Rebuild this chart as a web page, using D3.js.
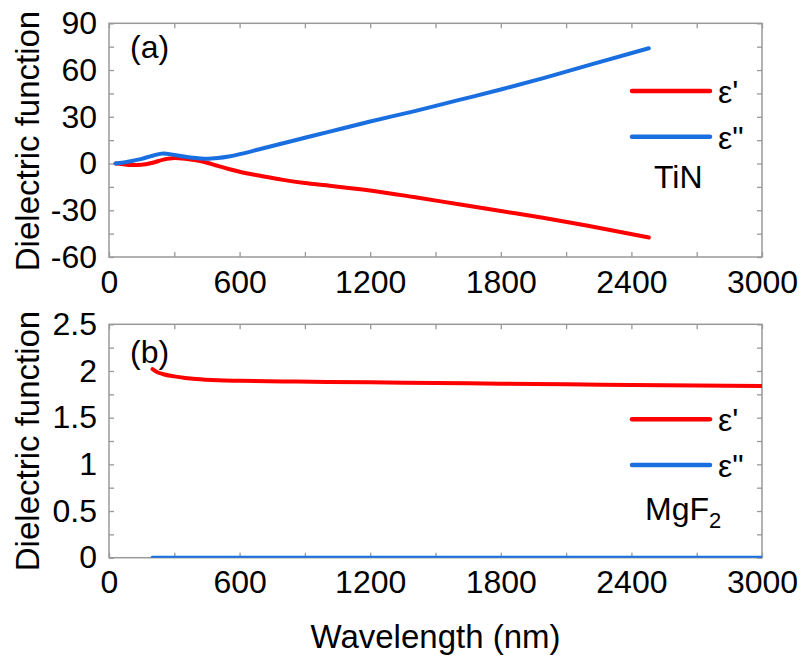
<!DOCTYPE html>
<html>
<head>
<meta charset="utf-8">
<script src="https://cdn.jsdelivr.net/npm/d3@7"></script>
<style>
  html, body { margin: 0; padding: 0; background: #fff; }
  svg text { font-family: "Liberation Sans", Arial, sans-serif; fill: #000; }
</style>
</head>
<body>
<svg id="chart" width="801" height="658"></svg>
<script>
// ---- Data ----
// Panel (a): TiN
const tinWavelength = [30, 60, 100, 150, 200, 250, 300, 350, 400, 450, 500, 550, 600, 700, 800, 900, 1000, 1200, 1400, 1600, 1800, 2000, 2200, 2480];
const tinEpsReal    = [0, -0.3, -1, -0.8, 0.5, 2.5, 3.5, 3, 2, 0.5, -1.5, -3.5, -5.3, -8, -10.5, -12.5, -14, -17.3, -21.5, -26, -30.5, -35, -40, -47.5];
const tinEpsImag    = [0, 0.5, 1.5, 3, 5, 6.5, 5.5, 4.3, 3.5, 3, 3.5, 4.5, 6, 9.5, 13, 16.5, 20, 27, 33.5, 40.5, 47.5, 55, 63, 74];

// Panel (b): MgF2
const mgWavelength = [200, 220, 250, 300, 350, 400, 500, 600, 800, 1000, 1200, 1500, 1800, 2100, 2400, 2700, 3000];
const mgEpsReal    = [2.02, 1.99, 1.965, 1.942, 1.925, 1.913, 1.90, 1.895, 1.888, 1.883, 1.878, 1.871, 1.864, 1.857, 1.85, 1.844, 1.838];
const mgEpsImag    = [0, 0, 0, 0, 0, 0, 0, 0, 0, 0, 0, 0, 0, 0, 0, 0, 0];

// Axes / ticks / labels
const xDomain = [0, 3000];
const xMajorTicks = [0, 600, 1200, 1800, 2400, 3000];
const xMinorStep = 300;
const yDomainA = [-60, 90];
const yMajorTicksA = [-60, -30, 0, 30, 60, 90];
const yMinorStepA = 15;
const yDomainB = [0, 2.5];
const yMajorTicksB = [0, 0.5, 1, 1.5, 2, 2.5];
const yMinorStepB = 0.25;
const seriesNames = ["ε'", "ε\""];
const materialA = "TiN";
const materialB = "MgF";
const yTitle = "Dielectric function";
const xTitle = "Wavelength (nm)";
const panelLabels = ["(a)", "(b)"];

// ---- Drawing ----
const RED = "#ff0000", BLUE = "#1a6fe0", FRAME = "#999999";
const svg = d3.select("#chart");
const left = 109, right = 762;
const FS = 32;

function range(a, b, step) {
  const out = [];
  for (let v = a; v <= b + step * 1e-6; v += step) out.push(+v.toFixed(6));
  return out;
}

function panel(opts) {
  const { top, bottom, yDomain, yMajor, yMinorStep, series, label, legendY, id } = opts;
  const x = d3.scaleLinear().domain(xDomain).range([left, right]);
  const y = d3.scaleLinear().domain(yDomain).range([bottom, top]);
  const g = svg.append("g");

  const xAll = range(xDomain[0], xDomain[1], xMinorStep);
  const yAll = range(yDomain[0], yDomain[1], yMinorStep);
  const fmtY = d => yMajor.some(m => Math.abs(m - d) < 1e-9) ? String(d) : "";
  const fmtX = d => xMajorTicks.includes(d) ? String(d) : "";
  const T = 5;

  const styleAxis = sel => {
    sel.select(".domain").remove();
    sel.selectAll(".tick line").attr("stroke", FRAME).attr("stroke-width", 1.3);
    sel.selectAll(".tick text").attr("font-size", FS).attr("font-family", "Liberation Sans, Arial, sans-serif");
  };

  g.append("g").attr("transform", `translate(0,${bottom})`)
    .call(d3.axisBottom(x).tickValues(xAll).tickSize(-T).tickPadding(13).tickFormat(fmtX))
    .call(styleAxis);
  g.append("g").attr("transform", `translate(0,${top})`)
    .call(d3.axisTop(x).tickValues(xAll).tickSize(-T).tickFormat(""))
    .call(styleAxis);
  g.append("g").attr("transform", `translate(${left},0)`)
    .call(d3.axisLeft(y).tickValues(yAll).tickSize(-T).tickPadding(12).tickFormat(fmtY))
    .call(styleAxis);
  g.append("g").attr("transform", `translate(${right},0)`)
    .call(d3.axisRight(y).tickValues(yAll).tickSize(-T).tickFormat(""))
    .call(styleAxis);

  g.append("rect").attr("x", left).attr("y", top)
    .attr("width", right - left).attr("height", bottom - top)
    .attr("fill", "none").attr("stroke", FRAME).attr("stroke-width", 1.5);

  svg.append("clipPath").attr("id", id)
    .append("rect").attr("x", left).attr("y", top).attr("width", right - left).attr("height", bottom - top);

  const line = d3.line().x(d => x(d[0])).y(d => y(d[1])).curve(d3.curveMonotoneX);
  const lg = g.append("g").attr("clip-path", `url(#${id})`);
  series.forEach(s => {
    lg.append("path").datum(s.xs.map((v, i) => [v, s.ys[i]]))
      .attr("d", line).attr("fill", "none").attr("stroke", s.color)
      .attr("stroke-width", 4).attr("stroke-linecap", "round").attr("stroke-linejoin", "round");
  });

  // panel label
  g.append("text").attr("x", 130).attr("y", label.y).attr("font-size", FS).text(label.text);

  // legend
  series.forEach((s, i) => {
    const ly = legendY[i];
    g.append("line").attr("x1", 632).attr("x2", 710).attr("y1", ly).attr("y2", ly)
      .attr("stroke", s.color).attr("stroke-width", 4.5).attr("stroke-linecap", "round");
    g.append("text").attr("x", 718).attr("y", ly + 12).attr("font-size", FS).text(s.name);
  });
  return g;
}

const gA = panel({
  id: "clipA", top: 23.3, bottom: 257, yDomain: yDomainA, yMajor: yMajorTicksA, yMinorStep: yMinorStepA,
  series: [
    { xs: tinWavelength, ys: tinEpsReal, color: RED, name: seriesNames[0] },
    { xs: tinWavelength, ys: tinEpsImag, color: BLUE, name: seriesNames[1] }
  ],
  label: { text: panelLabels[0], y: 58 },
  legendY: [91, 136.7]
});
gA.append("text").attr("x", 654).attr("y", 187.5).attr("font-size", FS).text(materialA);

const gB = panel({
  id: "clipB", top: 324.3, bottom: 557.7, yDomain: yDomainB, yMajor: yMajorTicksB, yMinorStep: yMinorStepB,
  series: [
    { xs: mgWavelength, ys: mgEpsReal, color: RED, name: seriesNames[0] },
    { xs: mgWavelength, ys: mgEpsImag, color: BLUE, name: seriesNames[1] }
  ],
  label: { text: panelLabels[1], y: 362.5 },
  legendY: [419.3, 465]
});
const mt = gB.append("text").attr("x", 645).attr("y", 520).attr("font-size", FS);
mt.append("tspan").text(materialB);
mt.append("tspan").attr("font-size", 22).attr("dy", 8).text("2");

// axis titles
svg.append("text").attr("transform", "translate(39,141) rotate(-90)")
  .attr("text-anchor", "middle").attr("font-size", 33).text(yTitle);
svg.append("text").attr("transform", "translate(39,441) rotate(-90)")
  .attr("text-anchor", "middle").attr("font-size", 33).text(yTitle);
svg.append("text").attr("x", (left + right) / 2).attr("y", 648)
  .attr("text-anchor", "middle").attr("font-size", 33).text(xTitle);
</script>
</body>
</html>
